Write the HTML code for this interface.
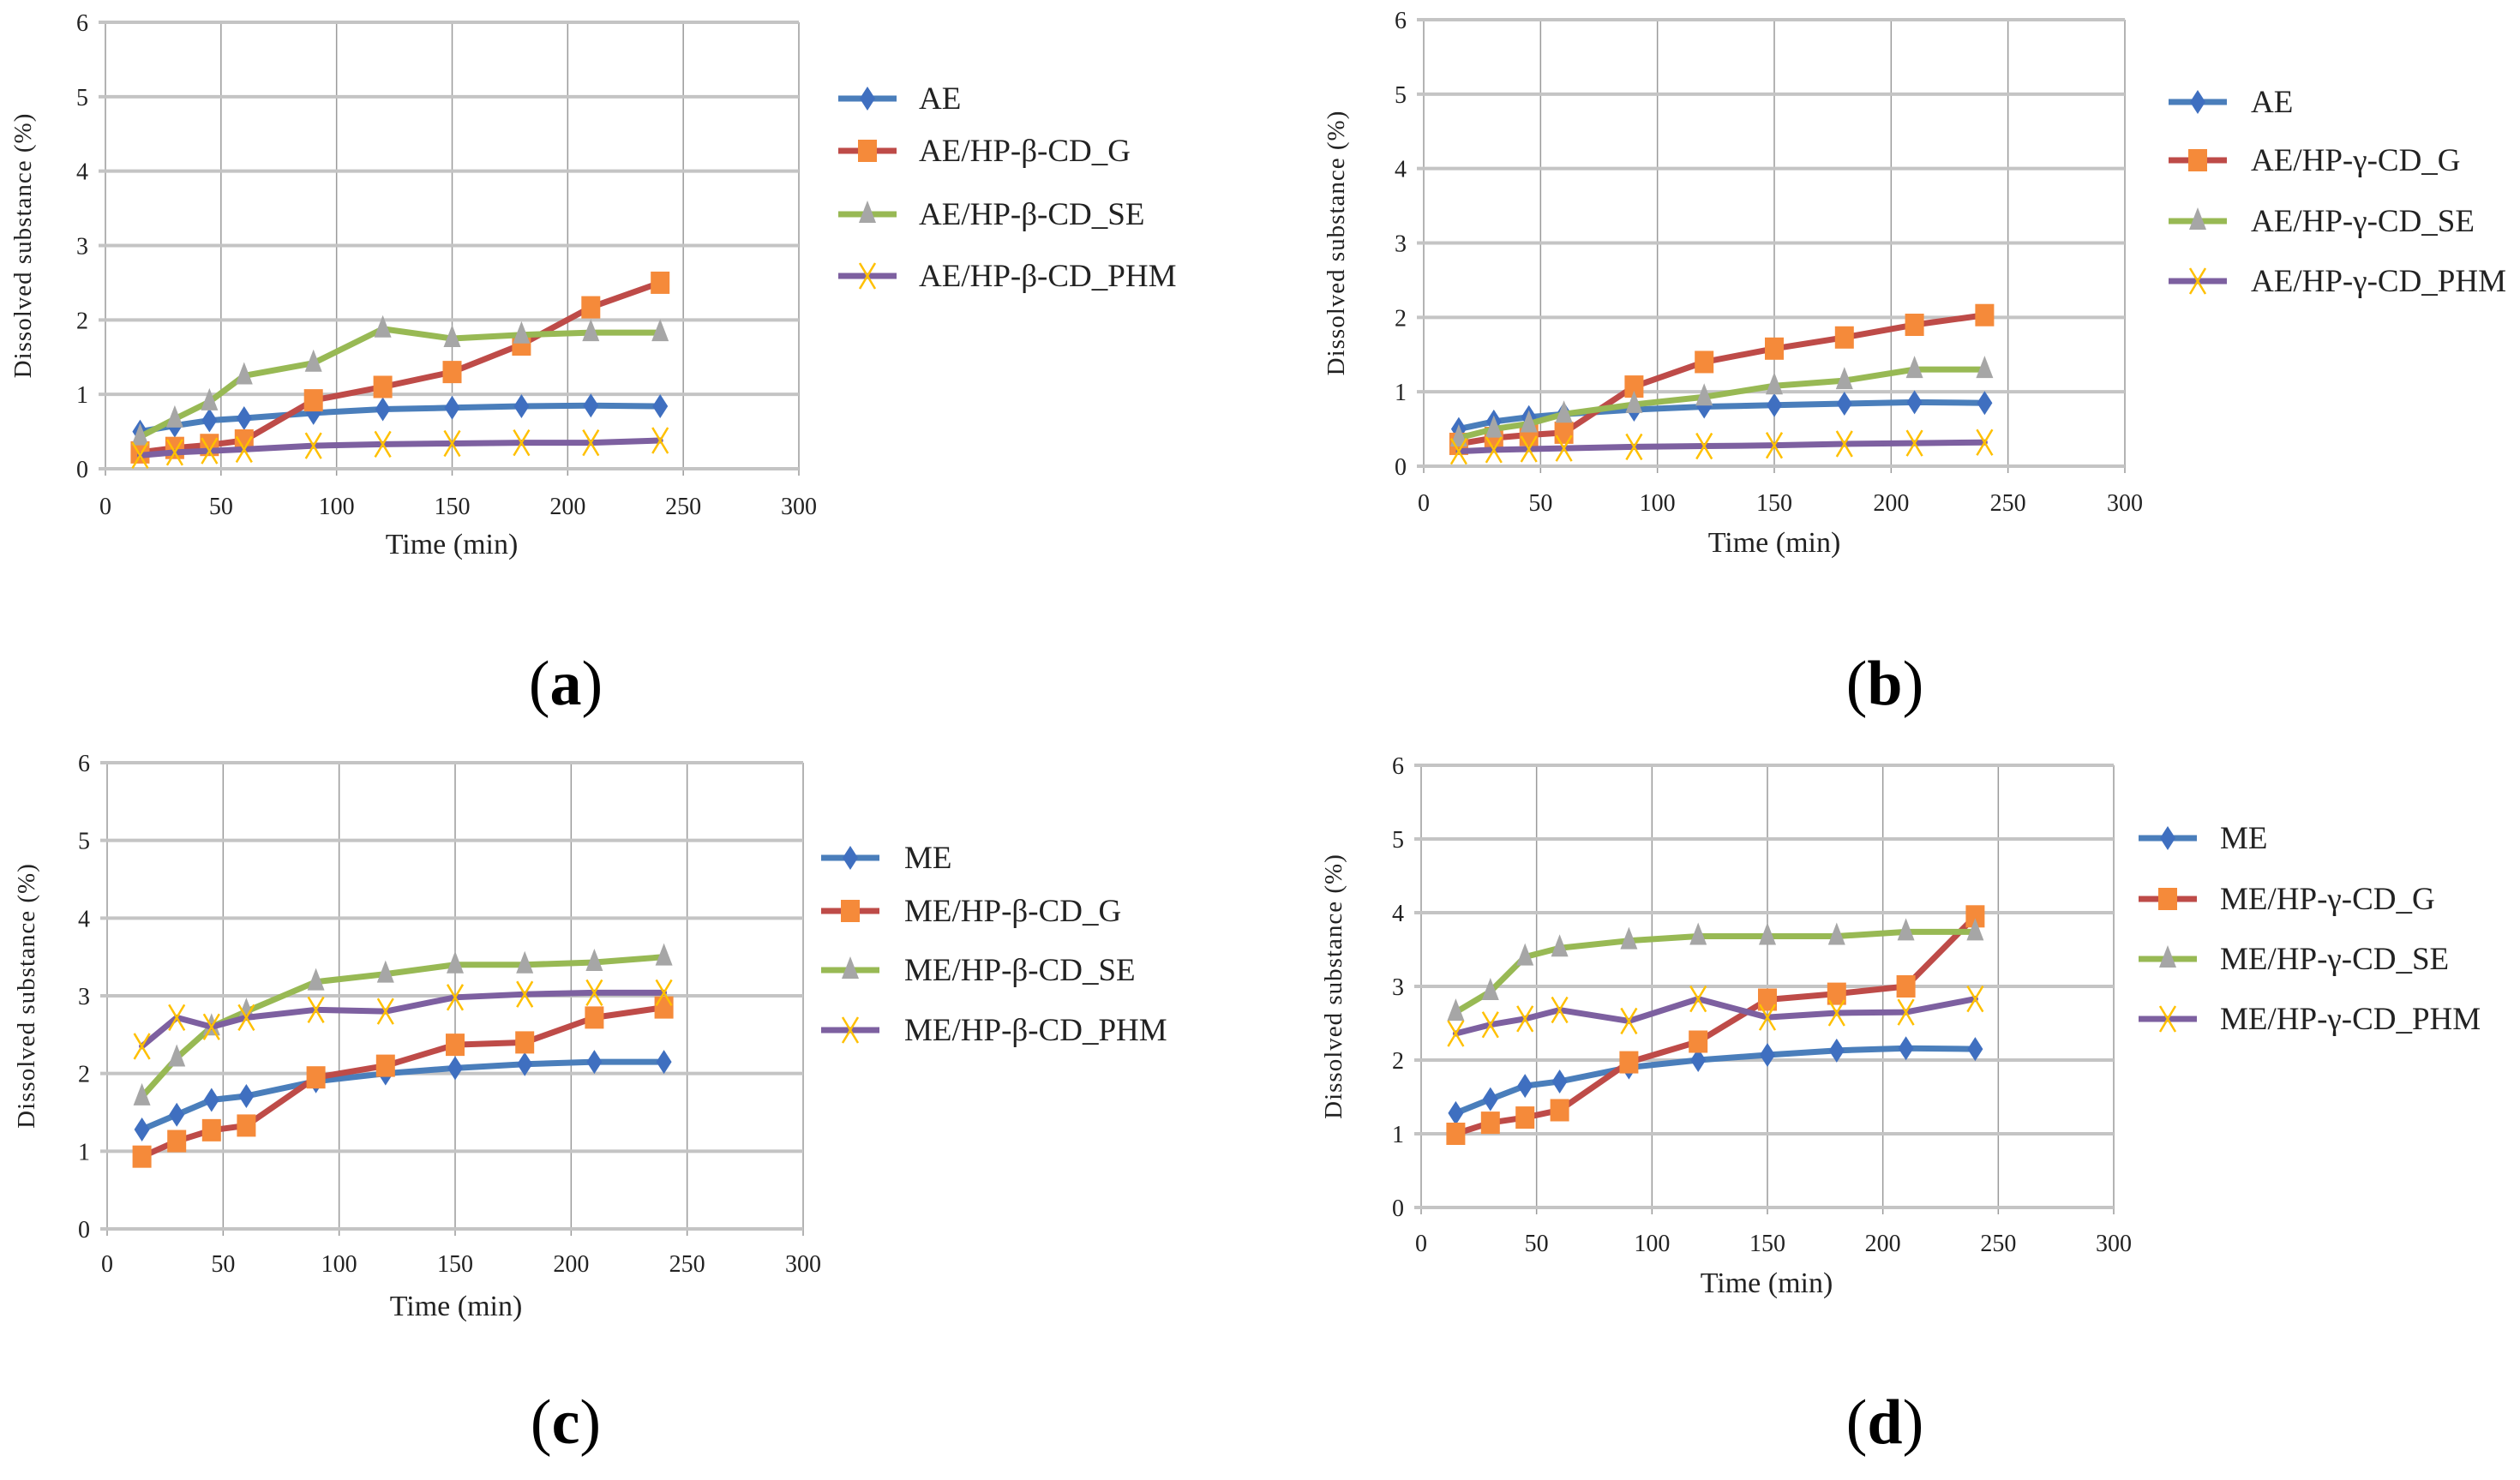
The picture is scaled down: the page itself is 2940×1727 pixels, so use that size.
<!DOCTYPE html>
<html><head><meta charset="utf-8">
<style>
html,body{margin:0;padding:0;background:#fff;}
svg{display:block;font-family:"Liberation Serif",serif;}
</style></head>
<body>
<svg id="fig" width="2940" height="1727" viewBox="0 0 2940 1727" xmlns="http://www.w3.org/2000/svg"></svg>
<script>
const times = [15,30,45,60,90,120,150,180,210,240];
const xTicks = [0,50,100,150,200,250,300];
const yTicks = [0,1,2,3,4,5,6];

const aAE  = [0.5,0.58,0.65,0.68,0.75,0.8,0.82,0.84,0.85,0.84];
const aG   = [0.22,0.28,0.32,0.38,0.92,1.1,1.3,1.67,2.17,2.5];
const aSE  = [0.43,0.67,0.9,1.25,1.42,1.88,1.75,1.8,1.83,1.83];
const aPHM = [0.18,0.22,0.24,0.26,0.31,0.33,0.34,0.35,0.35,0.38];

const bAE  = [0.5,0.6,0.66,0.7,0.76,0.8,0.82,0.84,0.86,0.85];
const bG   = [0.3,0.38,0.42,0.45,1.07,1.4,1.58,1.73,1.9,2.03];
const bSE  = [0.38,0.5,0.57,0.7,0.83,0.93,1.08,1.15,1.3,1.3];
const bPHM = [0.2,0.22,0.23,0.24,0.26,0.27,0.28,0.3,0.31,0.32];

const cME  = [1.28,1.47,1.66,1.71,1.9,2.0,2.07,2.12,2.15,2.15];
const cG   = [0.93,1.13,1.27,1.33,1.95,2.1,2.37,2.4,2.72,2.85];
const cSE  = [1.7,2.2,2.6,2.8,3.18,3.28,3.4,3.4,3.43,3.5];
const cPHM = [2.35,2.72,2.6,2.72,2.82,2.8,2.98,3.02,3.04,3.04];

const dME  = [1.28,1.47,1.65,1.71,1.9,2.0,2.07,2.13,2.16,2.15];
const dG   = [1.0,1.15,1.22,1.32,1.97,2.25,2.82,2.9,3.0,3.95];
const dSE  = [2.65,2.93,3.4,3.52,3.62,3.68,3.68,3.68,3.74,3.74];
const dPHM = [2.36,2.48,2.56,2.68,2.53,2.83,2.58,2.64,2.65,2.83];

const aNames = ["AE","AE/HP-β-CD_G","AE/HP-β-CD_SE","AE/HP-β-CD_PHM"];
const bNames = ["AE","AE/HP-γ-CD_G","AE/HP-γ-CD_SE","AE/HP-γ-CD_PHM"];
const cNames = ["ME","ME/HP-β-CD_G","ME/HP-β-CD_SE","ME/HP-β-CD_PHM"];
const dNames = ["ME","ME/HP-γ-CD_G","ME/HP-γ-CD_SE","ME/HP-γ-CD_PHM"];

const NS="http://www.w3.org/2000/svg";
const svg=document.getElementById('fig');
function mk(tag,attrs,parent){const e=document.createElementNS(NS,tag);for(const k in attrs)e.setAttribute(k,attrs[k]);(parent||svg).appendChild(e);return e;}

const lineCols=["#4a7ebb","#be4b48","#98b954","#7d60a0"];
const kinds=["diamond","square","triangle","x"];
const markCols=["#3f6fc0","#f58a3a","#a6a6a6","#ffc000"];
const seriesKeys=["base","g","se","phm"];

function marker(g,kind,cx,cy){
  let m;
  if(kind==="diamond") m=mk('polygon',{points:`${cx},${cy-14} ${cx+9},${cy} ${cx},${cy+14} ${cx-9},${cy}`,fill:markCols[0]},g);
  else if(kind==="square") m=mk('rect',{x:cx-11,y:cy-13,width:22,height:26,fill:markCols[1]},g);
  else if(kind==="triangle") m=mk('polygon',{points:`${cx},${cy-16} ${cx+10},${cy+10} ${cx-10},${cy+10}`,fill:markCols[2]},g);
  else m=mk('path',{d:`M${cx-9},${cy-15}L${cx+9},${cy+15}M${cx+9},${cy-15}L${cx-9},${cy+15}`,stroke:markCols[3],'stroke-width':2.5,fill:'none'},g);
  return m;
}

function panel(id,cfg,series,names){
  const g=mk('g',{});
  
  
  const X=v=>cfg.x0+(cfg.x1-cfg.x0)*v/300;
  const Y=v=>cfg.y0+(cfg.y1-cfg.y0)*v/6;
  xTicks.forEach(t=>{
    const l=mk('line',{x1:X(t),x2:X(t),y1:Y(6),y2:Y(0)+8,stroke:'#9a9a9a','stroke-width':1.5},g);
    
    
    const tx=mk('text',{x:X(t),y:cfg.xl,'font-size':28,'text-anchor':'middle',fill:'#222'},g);
    tx.textContent=t;
    
    
  });
  yTicks.forEach(t=>{
    const l=mk('line',{x1:X(0)-8,x2:X(300),y1:Y(t),y2:Y(t),stroke:'#c4c4c4','stroke-width':4},g);
    
    
    const tx=mk('text',{x:X(0)-20,y:Y(t)+10,'font-size':28,'text-anchor':'end',fill:'#222'},g);
    tx.textContent=t;
    
    
  });
  const xt=mk('text',{x:cfg.xtx,y:cfg.xty,'font-size':34,'text-anchor':'middle',fill:'#222'},g);
  xt.textContent='Time (min)';
  
  
  const ymid=(Y(0)+Y(6))/2;
  const yt=mk('text',{x:cfg.ytx,y:ymid,'font-size':29,'text-anchor':'middle',fill:'#222',transform:`rotate(-90 ${cfg.ytx} ${ymid})`,'letter-spacing':1},g);
  yt.textContent='Dissolved substance (%)';
  
  
  series.forEach((vals,si)=>{
    const sg=mk('g',{},g);
    
    
    const pts=vals.map((v,i)=>X(times[i])+','+Y(v)).join(' ');
    const pl=mk('polyline',{points:pts,fill:'none',stroke:lineCols[si],'stroke-width':7,'stroke-linejoin':'round','stroke-linecap':'round'},sg);
    
    
    vals.forEach((v,i)=>{
      const m=marker(sg,kinds[si],X(times[i]),Y(v));
      
      
    });
  });
  const lg=mk('g',{},g);
  
  
  names.forEach((n,i)=>{
    const y=cfg.ly[i];
    const e=mk('g',{},lg);
    
    
    mk('line',{x1:cfg.lx-34,x2:cfg.lx+34,y1:y,y2:y,stroke:lineCols[i],'stroke-width':7},e);
    marker(e,kinds[i],cfg.lx,y);
    const t=mk('text',{x:cfg.lt,y:y+12,'font-size':37,fill:'#222'},e);
    t.textContent=n;
  });
  const lab=mk('text',{x:cfg.labx,y:cfg.laby,'font-size':74,'text-anchor':'middle',fill:'#000'},g);
  lab.innerHTML='(<tspan font-weight="bold">'+id+'</tspan>)';
  
  
}

panel('a',{x0:123,x1:932,y0:547,y1:26,xl:600,xtx:527,xty:646,ytx:36,lx:1012,lt:1072,ly:[115,176,250,322],labx:660,laby:822},[aAE,aG,aSE,aPHM],aNames);
panel('b',{x0:1661,x1:2479,y0:544,y1:23,xl:596,xtx:2070,xty:644,ytx:1568,lx:2564,lt:2626,ly:[119,187,258,328],labx:2199,laby:822},[bAE,bG,bSE,bPHM],bNames);
panel('c',{x0:125,x1:937,y0:1434,y1:890,xl:1484,xtx:532,xty:1535,ytx:40,lx:992,lt:1055,ly:[1001,1063,1132,1202],labx:660,laby:1684},[cME,cG,cSE,cPHM],cNames);
panel('d',{x0:1658,x1:2466,y0:1409,y1:893,xl:1460,xtx:2061,xty:1508,ytx:1565,lx:2529,lt:2590,ly:[978,1049,1119,1189],labx:2199,laby:1684},[dME,dG,dSE,dPHM],dNames);
</script>
</body></html>
